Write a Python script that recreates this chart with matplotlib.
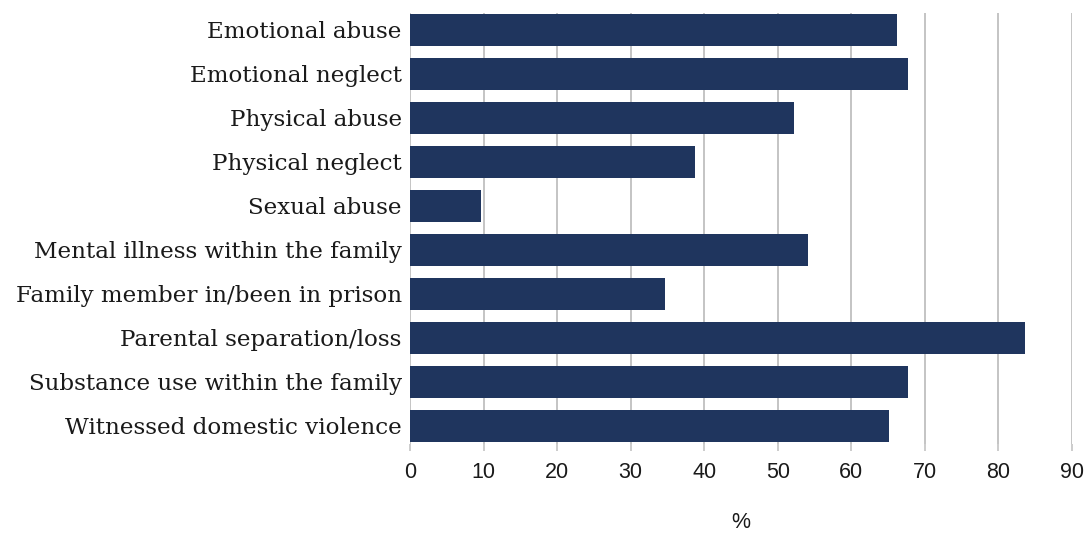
import matplotlib.pyplot as plt
import numpy as np

# ACE categories, top to bottom
categories = ['Emotional abuse', 'Emotional neglect', 'Physical abuse',
              'Physical neglect', 'Sexual abuse', 'Mental illness within the family',
              'Family member in/been in prison', 'Parental separation/loss',
              'Substance use within the family', 'Witnessed domestic violence']
values = [66.2, 67.7, 52.2, 38.7, 9.6, 54.1, 34.6, 83.6, 67.7, 65.1]
xticks = [0, 10, 20, 30, 40, 50, 60, 70, 80, 90]

W, H = 1087, 535
fig = plt.figure(figsize=(W / 100, H / 100), dpi=100)
# plot area in pixels: x 410..1072, y 13..444
ax = fig.add_axes([410 / W, 1 - 444 / H, 662 / W, 431 / H])

y = np.arange(len(categories))
ax.barh(y, values, height=0.727, color='#1f355e', zorder=3)

ax.set_ylim(9.41, -0.386)
ax.set_xlim(0, 90)
ax.set_xticks(xticks)
ax.set_xticklabels([str(t) for t in xticks],
                   family=['Liberation Sans Narrow', 'Liberation Sans'], fontsize=15.5)
ax.set_yticks(y)
ax.set_yticklabels(categories, family='DejaVu Serif', fontsize=16.6, color='#1a1a1a')

ax.grid(axis='x', color='#c4c4c4', linewidth=1.4, zorder=0)
for s in ax.spines.values():
    s.set_visible(False)
ax.tick_params(axis='y', length=0, pad=6)
ax.tick_params(axis='x', length=5, width=1.2, color='#c4c4c4', pad=8, labelcolor='#1a1a1a')

ax.set_xlabel('%', family=['Liberation Sans Narrow', 'Liberation Sans'], fontsize=15.5,
              labelpad=21, color='#1a1a1a')

fig.savefig('out.png', dpi=100)
